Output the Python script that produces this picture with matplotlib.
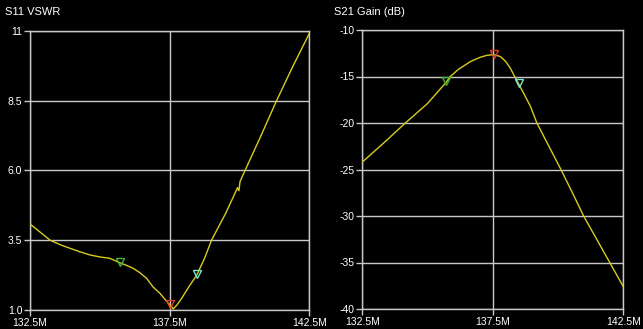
import numpy as np
import matplotlib
matplotlib.use("Agg")
import matplotlib.pyplot as plt

plt.rcParams['font.family'] = ['Liberation Sans', 'DejaVu Sans']
plt.rcParams['font.size'] = 7.5

# S11 VSWR trace (frequency in MHz)
s11_freq = [132.5, 132.86, 133.22, 133.6, 133.93, 134.3, 134.65, 135.0, 135.36, 135.72,
            135.95, 136.2, 136.44, 136.68, 136.91, 137.15, 137.35, 137.51, 137.63,
            137.76, 137.93, 138.2, 138.47, 138.75, 139.0, 139.5, 139.84, 139.93,
            139.98, 140.02, 140.2, 140.73, 141.33, 141.9, 142.5]
s11_vswr = [4.08, 3.79, 3.5, 3.33, 3.21, 3.08, 2.97, 2.9, 2.85, 2.69,
            2.6, 2.49, 2.33, 2.13, 1.82, 1.6, 1.36, 1.18, 1.04,
            1.18, 1.42, 1.85, 2.25, 2.85, 3.5, 4.45, 5.18, 5.38,
            5.27, 5.6, 6.0, 7.15, 8.5, 9.7, 10.9]

# S21 gain trace
s21_freq = [132.5, 133.3, 134.15, 135.0, 135.72, 135.87, 136.2, 136.64, 137.0, 137.28,
            137.53, 137.79, 138.0, 138.17, 138.3, 138.49, 138.7, 138.94, 139.19,
            139.65, 140.11, 140.55, 140.98, 141.48, 141.98, 142.5]
s21_gain = [-24.2, -22.2, -20.0, -17.9, -15.6, -15.0, -14.2, -13.4, -12.95, -12.72,
            -12.65, -12.85, -13.4, -14.1, -14.8, -15.8, -16.9, -18.2, -20.0,
            -22.5, -25.0, -27.5, -30.0, -32.5, -35.0, -37.6]

# markers: (freq, value) for green, red, cyan
s11_markers = [(135.72, 2.72), (137.51, 1.22), (138.47, 2.28)]
s21_markers = [(135.72, -15.5), (137.53, -12.6), (138.49, -15.7)]
marker_colors = ['#3cb43c', '#e03c28', '#78e6c8']

x_ticks = [132.5, 137.5, 142.5]
x_labels = ['132.5M', '137.5M', '142.5M']
s11_yticks = [1.0, 3.5, 6.0, 8.5, 11]
s11_ylabels = ['1.0', '3.5', '6.0', '8.5', '11']
s21_yticks = [-40, -35, -30, -25, -20, -15, -10]

fig = plt.figure(figsize=(6.43, 3.29), dpi=100, facecolor='black')
ax1 = fig.add_axes([30/643, 1-310/329, 279.3/643, 279.3/329])
ax2 = fig.add_axes([362.3/643, 1-309/329, 261/643, 279/329])

grid_col = '#c8c8c8'
line_col = '#d8cc20'

def style(ax, yticks, ylabels, ylim):
    ax.set_facecolor('black')
    ax.set_xlim(132.5, 142.5)
    ax.set_ylim(*ylim)
    ax.set_xticks(x_ticks)
    ax.set_xticklabels(x_labels)
    ax.set_yticks(yticks)
    ax.set_yticklabels(ylabels)
    ax.grid(True, color=grid_col, linewidth=1.0)
    for s in ax.spines.values():
        s.set_color(grid_col)
        s.set_linewidth(1.0)
    ax.tick_params(colors=grid_col, labelcolor='white', length=4, width=1.0,
                   pad=1.5)

ax1.plot(s11_freq, s11_vswr, color=line_col, lw=1.0, zorder=3)
for (f, v), c in zip(s11_markers, marker_colors):
    ax1.plot(f, v, marker='v', ms=5.5, mfc='none', mec=c, mew=1.0, zorder=4)
style(ax1, s11_yticks, s11_ylabels, (1.0, 11))

ax2.plot(s21_freq, s21_gain, color=line_col, lw=1.0, zorder=3)
for (f, v), c in zip(s21_markers, marker_colors):
    ax2.plot(f, v, marker='v', ms=5.5, mfc='none', mec=c, mew=1.0, zorder=4)
style(ax2, s21_yticks, [str(t) for t in s21_yticks], (-40, -10))

fig.text(5/643, 1-12/329, 'S11 VSWR', color='white', va='center', ha='left', fontsize=8)
fig.text(334/643, 1-12/329, 'S21 Gain (dB)', color='white', va='center', ha='left', fontsize=8)

fig.savefig('out.png', dpi=100, facecolor='black')
